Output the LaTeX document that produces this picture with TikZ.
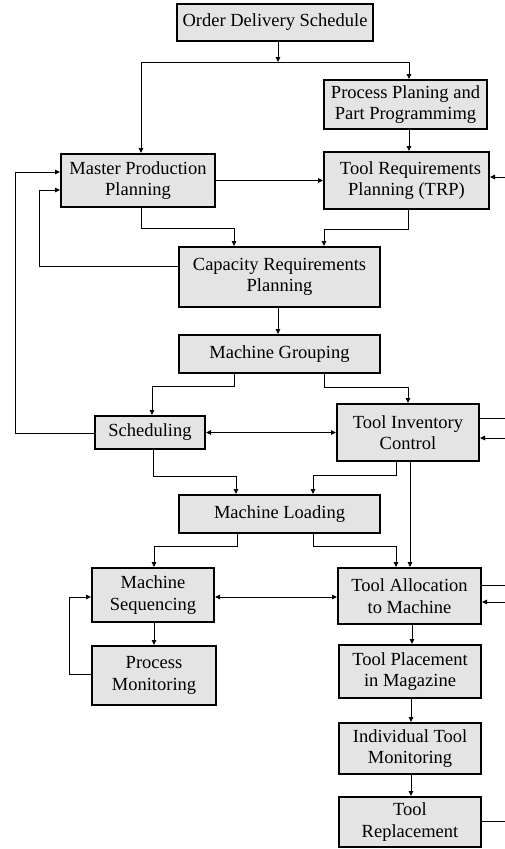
\documentclass[tikz,border=0pt]{standalone}
\usepackage{fontspec}
\setmainfont{Liberation Serif}
\usetikzlibrary{arrows.meta}
\definecolor{boxfill}{RGB}{228,228,228}
\begin{document}
\begin{tikzpicture}[x=1pt,y=-1pt,
  blk/.style={draw=black, line width=2pt, fill=boxfill, align=center,
    inner sep=0pt, font=\fontsize{18.5}{21.5}\selectfont},
  link/.style={line width=1pt},
  arr/.style={link, -{Triangle[length=5pt,width=4.5pt]}},
  darr/.style={link, {Triangle[length=5pt,width=4.5pt]}-{Triangle[length=5pt,width=4.5pt]}}]
\useasboundingbox (0,0) rectangle (505,849);

% process blocks
\node[blk, minimum width=196pt, minimum height=37pt] (ODS)  at (275,22.5)  {Order Delivery Schedule};
\node[blk, minimum width=163pt, minimum height=49pt] (PPP)  at (405.5,104.5) {Process Planing and\\Part Programmimg};
\node[blk, minimum width=154pt, minimum height=53pt] (MPP)  at (138,180.5) {Master Production\\Planning};
\node[blk, minimum width=165pt, minimum height=57pt] (TRP)  at (406.5,180.5) {\hspace*{8pt}Tool Requirements\\Planning (TRP)};
\node[blk, minimum width=201pt, minimum height=60pt] (CRP)  at (279.5,277) {Capacity Requirements\\Planning};
\node[blk, minimum width=201pt, minimum height=38pt] (MG)   at (279.5,354) {Machine Grouping};
\node[blk, minimum width=110pt, minimum height=33pt] (SCH)  at (150,432.5) {Scheduling};
\node[blk, minimum width=142pt, minimum height=57pt] (TIC)  at (408,432.5) {Tool Inventory\\Control};
\node[blk, minimum width=201pt, minimum height=38pt] (ML)   at (279.5,514) {Machine Loading};
\node[blk, minimum width=122pt, minimum height=54pt] (MS)   at (153,595)   {Machine\\Sequencing};
\node[blk, minimum width=143pt, minimum height=56pt] (TAM)  at (409.5,596) {Tool Allocation\\to Machine};
\node[blk, minimum width=124pt, minimum height=59pt] (PM)   at (154,675.5) {Process\\Monitoring};
\node[blk, minimum width=142pt, minimum height=53pt] (TPM)  at (410,671.5) {Tool Placement\\in Magazine};
\node[blk, minimum width=142pt, minimum height=51pt] (ITM)  at (410,748.5) {Individual Tool\\Monitoring};
\node[blk, minimum width=142pt, minimum height=50pt] (TR)   at (410,822)   {Tool\\Replacement};

% bend points
\coordinate (j0) at (278,62);
\coordinate (jL) at (141,62);
\coordinate (jR) at (409,62);
\coordinate (a1) at (141,228);  \coordinate (a2) at (234,228);
\coordinate (b1) at (408,229);  \coordinate (b2) at (324,229);
\coordinate (f1) at (39,266);   \coordinate (f2) at (39,190);
\coordinate (g0) at (278,0);
\coordinate (m1) at (234,386);  \coordinate (m2) at (152,386);
\coordinate (m3) at (324,387);  \coordinate (m4) at (408,387);
\coordinate (s1) at (15,433);   \coordinate (s2) at (15,172);
\coordinate (n1) at (153,476);  \coordinate (n2) at (236,476);
\coordinate (n3) at (396,475);  \coordinate (n4) at (313,475);
\coordinate (t0) at (410,0);
\coordinate (p1) at (237,546);  \coordinate (p2) at (154,546);
\coordinate (p3) at (313,546);  \coordinate (p4) at (396,546);
\coordinate (q1) at (69,674);   \coordinate (q2) at (69,597);
\coordinate (k0) at (154,0);
\coordinate (u0) at (412,0);
\coordinate (v0) at (411,0);
% free ends at the right margin
\coordinate (eTRP) at (505,177);
\coordinate (eTIC1) at (505,418);
\coordinate (eTIC2) at (505,438);
\coordinate (eTAM1) at (505,585);
\coordinate (eTAM2) at (505,602);
\coordinate (eTR) at (505,821);

% connectors
\draw[arr] (ODS.south -| j0) -- (j0);
\draw[link] (jL) -- (jR);
\draw[arr] (jL) -- (MPP.north -| jL);
\draw[arr] (jR) -- (PPP.north -| jR);
\draw[arr] (PPP.south -| jR) -- (TRP.north -| jR);
\draw[arr] (MPP.east) -- (TRP.west);
\draw[arr] (eTRP) -- (TRP.east |- eTRP);

\draw[arr] (MPP.south -| a1) -- (a1) -- (a2) -- (CRP.north -| a2);
\draw[arr] (TRP.south -| b1) -- (b1) -- (b2) -- (CRP.north -| b2);
\draw[arr] (CRP.west |- f1) -- (f1) -- (f2) -- (MPP.west |- f2);
\draw[arr] (CRP.south -| g0) -- (MG.north -| g0);

\draw[arr] (MG.south -| m1) -- (m1) -- (m2) -- (SCH.north -| m2);
\draw[arr] (MG.south -| m3) -- (m3) -- (m4) -- (TIC.north -| m4);
\draw[arr] (SCH.west |- s1) -- (s1) -- (s2) -- (MPP.west |- s2);
\draw[darr] (SCH.east) -- (TIC.west |- SCH.east);
\draw[link] (TIC.east |- eTIC1) -- (eTIC1);
\draw[arr] (eTIC2) -- (TIC.east |- eTIC2);

\draw[arr] (SCH.south -| n1) -- (n1) -- (n2) -- (ML.north -| n2);
\draw[arr] (TIC.south -| n3) -- (n3) -- (n4) -- (ML.north -| n4);
\draw[arr] (TIC.south -| t0) -- (TAM.north -| t0);

\draw[arr] (ML.south -| p1) -- (p1) -- (p2) -- (MS.north -| p2);
\draw[arr] (ML.south -| p3) -- (p3) -- (p4) -- (TAM.north -| p4);
\draw[darr] (MS.east |- q2) -- (TAM.west |- q2);
\draw[link] (TAM.east |- eTAM1) -- (eTAM1);
\draw[arr] (eTAM2) -- (TAM.east |- eTAM2);

\draw[arr] (MS.south -| k0) -- (PM.north -| k0);
\draw[arr] (PM.west |- q1) -- (q1) -- (q2) -- (MS.west |- q2);

\draw[arr] (TAM.south -| u0) -- (TPM.north -| u0);
\draw[arr] (TPM.south -| v0) -- (ITM.north -| v0);
\draw[arr] (ITM.south -| v0) -- (TR.north -| v0);
\draw[link] (TR.east |- eTR) -- (eTR);
\end{tikzpicture}
\end{document}
